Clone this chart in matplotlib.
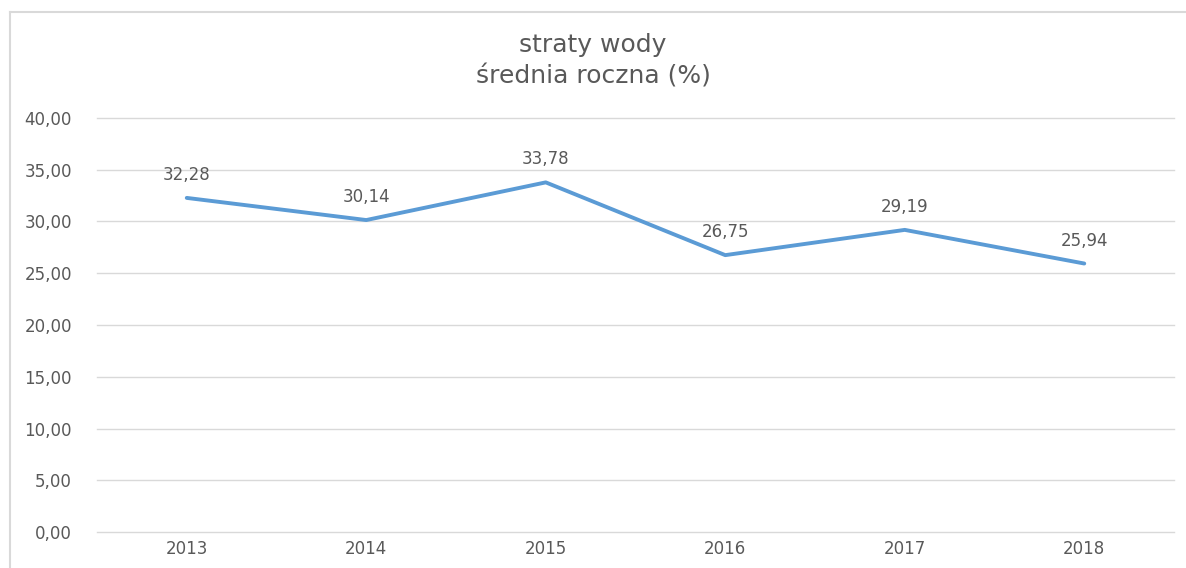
import matplotlib
matplotlib.use("Agg")
import matplotlib.pyplot as plt
from matplotlib.lines import Line2D

years = ["2013", "2014", "2015", "2016", "2017", "2018"]
losses = [32.28, 30.14, 33.78, 26.75, 29.19, 25.94]
yticks = [0, 5, 10, 15, 20, 25, 30, 35, 40]

LINE = "#5B9BD5"
TXT = "#595959"
GRID = "#D9D9D9"

plt.rcParams["font.family"] = ["DejaVu Sans"]

W, H = 1186, 568
fig = plt.figure(figsize=(W / 100, H / 100), dpi=100)
# chart frame: only top and left edges are inside the picture
fx, fy = 9.5 / W, 1 - 11.5 / H
fig.add_artist(Line2D([fx, 1.0], [fy, fy], transform=fig.transFigure, color=GRID, lw=1.5))
fig.add_artist(Line2D([fx, fx], [0.0, fy], transform=fig.transFigure, color=GRID, lw=1.5))

ax = fig.add_axes([97 / W, 1 - 532 / H, (1174 - 97) / W, (532 - 118) / H])
x = list(range(len(years)))
ax.plot(x, losses, color=LINE, lw=2.8, solid_capstyle="round", zorder=3)
for xi, v in zip(x, losses):
    ax.annotate(f"{v:.2f}".replace(".", ","), (xi, v), xytext=(0, 10), textcoords="offset points",
                ha="center", va="bottom", fontsize=12, color=TXT)

ax.set_xlim(-0.5, len(years) - 0.5)
ax.set_ylim(0, 40)
ax.set_yticks(yticks)
ax.set_yticklabels([f"{t:.2f}".replace(".", ",") for t in yticks])
ax.set_xticks(x)
ax.set_xticklabels(years)
ax.tick_params(axis="both", length=0, labelsize=12, labelcolor=TXT)
ax.tick_params(axis="y", pad=18)
ax.tick_params(axis="x", pad=6)
ax.grid(axis="y", color=GRID, lw=1)
for gl in ax.get_ygridlines():
    gl.set_clip_on(False)
ax.set_axisbelow(True)
for s in ax.spines.values():
    s.set_visible(False)

fig.text(0.5, 1 - 61 / H, "straty wody\nśrednia roczna (%)", ha="center", va="center",
         fontsize=18, color=TXT, linespacing=1.4)

fig.savefig("out.png", dpi=100)
